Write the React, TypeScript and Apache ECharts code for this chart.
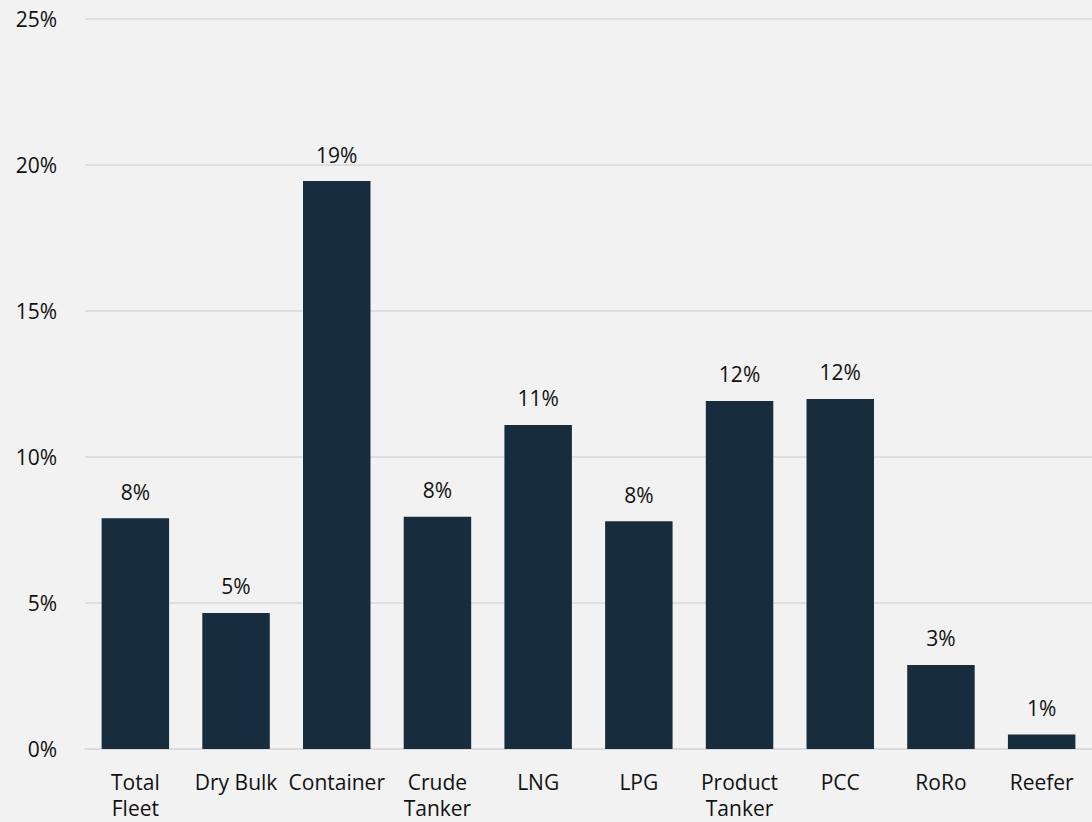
import React, { useEffect, useRef } from "react";
import * as echarts from "echarts";

const categories = ["Total\nFleet", "Dry Bulk", "Container", "Crude\nTanker", "LNG", "LPG", "Product\nTanker", "PCC", "RoRo", "Reefer"];
const values = [7.9, 4.66, 19.45, 7.95, 11.1, 7.8, 11.92, 11.99, 2.88, 0.5];
const valueLabels = ["8%", "5%", "19%", "8%", "11%", "8%", "12%", "12%", "3%", "1%"];

const FONT = "Open Sans";
const FS = 21;

export default function App() {
  const ref = useRef<HTMLDivElement>(null);
  useEffect(() => {
    const chart = echarts.init(ref.current!, null, { renderer: "svg" });
    chart.setOption({
      animation: false,
      backgroundColor: "#f2f2f2",
      grid: { left: 85, right: 0, top: 19, bottom: 73 },
      xAxis: {
        type: "category",
        data: categories,
        axisLine: { lineStyle: { color: "#d9d9d9", width: 1.5 } },
        axisTick: { show: false },
        axisLabel: { color: "#111", fontFamily: FONT, fontSize: FS, margin: 20, lineHeight: 26, interval: 0 },
      },
      yAxis: {
        type: "value",
        min: 0,
        max: 25,
        interval: 5,
        axisLabel: { formatter: "{value}%", color: "#111", fontFamily: FONT, fontSize: FS, margin: 28 },
        splitLine: { lineStyle: { color: "#d9d9d9", width: 1.5 } },
        axisLine: { show: false },
        axisTick: { show: false },
      },
      series: [
        {
          type: "bar",
          data: values,
          barCategoryGap: "33%",
          itemStyle: { color: "#172c3c" },
          label: {
            show: true,
            position: "top",
            distance: 16,
            color: "#111",
            fontFamily: FONT,
            fontSize: FS,
            formatter: (p: any) => valueLabels[p.dataIndex],
          },
        },
      ],
    });
    return () => chart.dispose();
  }, []);
  return <div ref={ref} style={{ position: "fixed", left: 0, top: 0, width: 1092, height: 822 }} />;
}
